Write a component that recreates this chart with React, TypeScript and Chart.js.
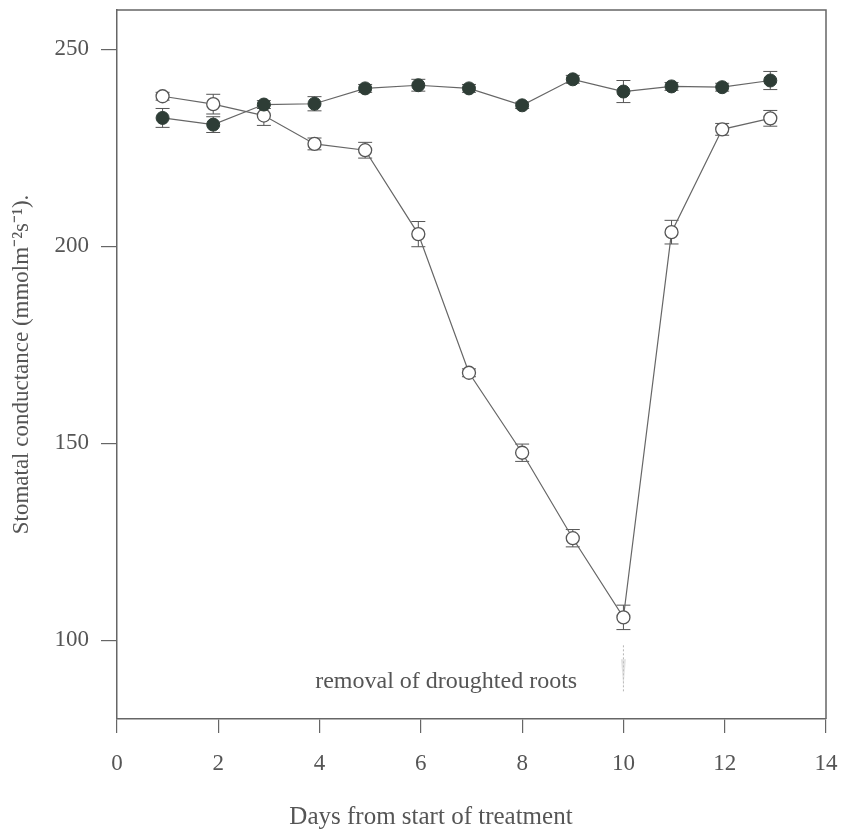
import React, { useEffect, useRef } from 'react';
import { Chart, registerables } from 'chart.js';

Chart.register(...registerables);

// ---- data ----
const days = [0.9, 1.9, 2.9, 3.9, 4.9, 5.95, 6.95, 8, 9, 10, 10.95, 11.95, 12.9];
const controlValues = [232.6, 230.9, 236, 236.2, 240.1, 240.9, 240.1, 235.8, 242.4, 239.3, 240.6, 240.4, 242.1];
const controlErrors = [2.4, 2, 1, 1.8, 1, 1.5, 1, 0.8, 1, 2.8, 1, 1, 2.3];
const droughtValues = [238.1, 236.1, 233.2, 226, 224.4, 203.1, 167.9, 147.6, 125.9, 105.8, 203.6, 229.7, 232.5];
const droughtErrors = [1, 2.5, 2.5, 1.5, 2, 3.2, 1, 2.2, 2.2, 3.1, 3, 1.5, 2];
const xTickValues = [0, 2, 4, 6, 8, 10, 12, 14];
const yTickValues = [100, 150, 200, 250];
const xTitle = 'Days from start of treatment';
const yTitle = 'Stomatal conductance (mmolm\u207B\u00B2s\u207B\u00B9).';
const annotationText = 'removal of droughted roots';
const annotationAt = { x: 6.5, y: 89.4 };
const arrowAt = { x: 10, from: 98.7, to: 86.6 };
const xTitleAt = 6.2;

const FONT = '"Liberation Serif", "Times New Roman", serif';
const TEXT = '#555555';
const AXIS = '#666666';

export default function App() {
  const ref = useRef<HTMLCanvasElement>(null);

  useEffect(() => {
    if (!ref.current) return;

    const errorBars = {
      id: 'errorBars',
      beforeDatasetsDraw(chart: any) {
        const { ctx, scales } = chart;
        const x = scales.x;
        const y = scales.y;
        ctx.save();
        ctx.strokeStyle = '#555';
        ctx.lineWidth = 1;
        const sets: [number[], number[]][] = [
          [controlValues, controlErrors],
          [droughtValues, droughtErrors],
        ];
        sets.forEach(([vals, errs]) => {
          vals.forEach((v, i) => {
            const px = x.getPixelForValue(days[i]);
            const top = y.getPixelForValue(v + errs[i]);
            const bot = y.getPixelForValue(v - errs[i]);
            ctx.beginPath();
            ctx.moveTo(px, top);
            ctx.lineTo(px, bot);
            ctx.moveTo(px - 7, top);
            ctx.lineTo(px + 7, top);
            ctx.moveTo(px - 7, bot);
            ctx.lineTo(px + 7, bot);
            ctx.stroke();
          });
        });
        ctx.restore();
      },
    };

    const extras = {
      id: 'extras',
      afterDraw(chart: any) {
        const { ctx, chartArea, scales } = chart;
        const x = scales.x;
        const y = scales.y;
        ctx.save();
        // top and right frame
        ctx.strokeStyle = AXIS;
        ctx.lineWidth = 1.5;
        ctx.beginPath();
        ctx.moveTo(chartArea.left, chartArea.top);
        ctx.lineTo(chartArea.right, chartArea.top);
        ctx.lineTo(chartArea.right, chartArea.bottom);
        ctx.stroke();

        // annotation text
        ctx.fillStyle = TEXT;
        ctx.font = `24px ${FONT}`;
        ctx.textAlign = 'center';
        ctx.textBaseline = 'middle';
        ctx.fillText(annotationText, x.getPixelForValue(annotationAt.x), y.getPixelForValue(annotationAt.y));

        // faint arrow
        const ax = x.getPixelForValue(arrowAt.x);
        const ay1 = y.getPixelForValue(arrowAt.from);
        const ay2 = y.getPixelForValue(arrowAt.to);
        ctx.strokeStyle = '#b5b5b5';
        ctx.lineWidth = 1;
        ctx.setLineDash([2, 2]);
        ctx.beginPath();
        ctx.moveTo(ax, ay1);
        ctx.lineTo(ax, ay2);
        ctx.stroke();
        ctx.setLineDash([]);
        ctx.fillStyle = 'rgba(200,200,200,0.5)';
        ctx.beginPath();
        ctx.moveTo(ax - 2.5, ay1 + 14);
        ctx.lineTo(ax + 2.5, ay1 + 14);
        ctx.lineTo(ax, ay2 - 6);
        ctx.closePath();
        ctx.fill();

        // x axis title
        ctx.fillStyle = TEXT;
        ctx.font = `25px ${FONT}`;
        ctx.textAlign = 'center';
        ctx.textBaseline = 'middle';
        ctx.fillText(xTitle, x.getPixelForValue(xTitleAt), chart.height - 12);
        ctx.restore();
      },
    };

    const chart = new Chart(ref.current, {
      type: 'line',
      data: {
        datasets: [
          {
            label: 'control',
            data: days.map((d, i) => ({ x: d, y: controlValues[i] })),
            borderColor: '#666',
            borderWidth: 1.2,
            pointRadius: 6.5,
            pointBackgroundColor: '#2e3d36',
            pointBorderColor: '#2e3d36',
            pointBorderWidth: 1,
            tension: 0,
          },
          {
            label: 'droughted',
            data: days.map((d, i) => ({ x: d, y: droughtValues[i] })),
            borderColor: '#666',
            borderWidth: 1.2,
            pointRadius: 6.5,
            pointBackgroundColor: '#ffffff',
            pointBorderColor: '#555',
            pointBorderWidth: 1.3,
            tension: 0,
          },
        ],
      },
      options: {
        responsive: false,
        animation: false,
        layout: { padding: { top: 10, right: 15, left: 0, bottom: 0 } },
        plugins: {
          legend: { display: false },
          tooltip: { enabled: false },
        },
        scales: {
          x: {
            type: 'linear',
            min: 0,
            max: 14,
            afterBuildTicks: (s: any) => {
              s.ticks = xTickValues.map((v) => ({ value: v }));
            },
            afterFit: (s: any) => {
              s.height = 110;
              s.paddingLeft = 0;
              s.paddingRight = 0;
            },
            grid: {
              drawOnChartArea: false,
              drawTicks: true,
              tickLength: 14,
              color: AXIS,
              lineWidth: 1.2,
            },
            border: { display: true, color: AXIS, width: 1.5 },
            ticks: {
              color: TEXT,
              font: { family: FONT, size: 23 },
              padding: 17,
              maxRotation: 0,
            },
          },
          y: {
            type: 'linear',
            min: 80,
            max: 260,
            afterBuildTicks: (s: any) => {
              s.ticks = yTickValues.map((v) => ({ value: v }));
            },
            afterFit: (s: any) => {
              s.width = 117;
              s.paddingTop = 0;
              s.paddingBottom = 0;
            },
            grid: {
              drawOnChartArea: false,
              drawTicks: true,
              tickLength: 16,
              color: AXIS,
              lineWidth: 1.2,
            },
            border: { display: true, color: AXIS, width: 1.5 },
            ticks: {
              color: TEXT,
              font: { family: FONT, size: 23 },
              padding: 12,
            },
            title: {
              display: true,
              text: yTitle,
              color: TEXT,
              font: { family: FONT, size: 23, weight: 'normal' },
              padding: { top: 8, bottom: 0 },
            },
          },
        },
      },
      plugins: [errorBars, extras],
    } as any);

    return () => chart.destroy();
  }, []);

  return (
    <div style={{ position: 'absolute', left: 0, top: 0, width: 841, height: 829, background: '#fff' }}>
      <canvas ref={ref} width={841} height={829} />
    </div>
  );
}
